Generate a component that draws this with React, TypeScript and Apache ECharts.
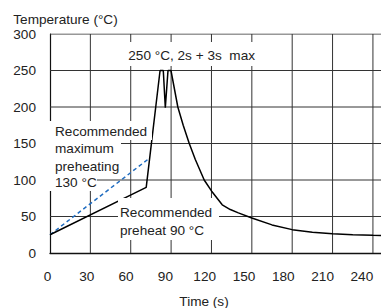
import React, { useEffect, useRef } from "react";
import * as echarts from "echarts";

// Reflow soldering temperature profile
const profileTime = [0, 71.5, 81.8, 84.2, 85.7, 87.7, 89.9, 95, 99, 103.5, 108, 114.6, 120, 128, 134, 140, 150, 165, 180, 195, 210, 225, 240, 246];
const profileTemp = [25, 90, 250, 250, 199, 250, 250, 200, 175, 150, 128, 100, 85, 66, 59.5, 55, 48, 38.5, 32, 28.5, 26.4, 25, 24.2, 24.1];
const maxPreheatTime = [0, 74];
const maxPreheatTemp = [25, 130];
const xTicks = [0, 30, 60, 90, 120, 150, 180, 210, 240];
const yTicks = [0, 50, 100, 150, 200, 250, 300];
const X_MAX = 246;

const FONT = "'Liberation Sans', Arial, Helvetica, sans-serif";
const FS = 13.6;
const TXT = "#222";
const GRID_COLOR = "#333";

export default function App() {
  const ref = useRef<HTMLDivElement>(null);
  useEffect(() => {
    if (!ref.current) return;
    const chart = echarts.init(ref.current, null, { renderer: "svg" });
    const profile = profileTime.map((t, i) => [t, profileTemp[i]]);
    const preheat = maxPreheatTime.map((t, i) => [t, maxPreheatTemp[i]]);
    const yMax = yTicks[yTicks.length - 1];
    const vLines = xTicks.slice(1).map((v) => [
      [v, 0],
      [v, yMax],
    ]);
    const hLines = yTicks.slice(1).map((v) => [
      [0, v],
      [X_MAX, v],
    ]);
    const gridSeries = [...vLines, ...hLines].map((d) => ({
      type: "line",
      xAxisIndex: 0,
      yAxisIndex: 0,
      data: d,
      showSymbol: false,
      symbol: "none",
      silent: true,
      z: 3,
      lineStyle: { color: GRID_COLOR, width: 1, type: "solid" },
    }));
    const font = `${FS}px ${FONT}`;
    const rect = (x: number, y: number, w: number, h: number) => ({
      type: "rect",
      shape: { x, y, width: w, height: h },
      style: { fill: "#fff" },
      z: 50,
      silent: true,
    });
    const text = (t: string, x: number, y: number, align = "left") => ({
      type: "text",
      x,
      y,
      z: 60,
      silent: true,
      style: { text: t, fill: TXT, font, textAlign: align, textVerticalAlign: "middle" },
    });
    chart.setOption({
      animation: false,
      backgroundColor: "#fff",
      textStyle: { fontFamily: FONT },
      grid: [
        { left: 50, right: -1, top: 34, bottom: 55 },
        { left: 47.5, right: 19.1, top: 34, bottom: 55, show: false },
      ],
      xAxis: [
        {
          type: "value",
          gridIndex: 0,
          min: 0,
          max: X_MAX,
          interval: 30,
          axisLine: { show: true, lineStyle: { color: "#111", width: 1.3 } },
          axisTick: { show: false },
          axisLabel: { show: false },
          splitLine: { show: false },
        },
        {
          type: "value",
          gridIndex: 1,
          min: xTicks[0],
          max: xTicks[xTicks.length - 1],
          interval: 30,
          axisLine: { show: false },
          axisTick: { show: false },
          splitLine: { show: false },
          axisLabel: { show: true, margin: 16, color: TXT, fontSize: FS, fontFamily: FONT },
        },
      ],
      yAxis: [
        {
          type: "value",
          gridIndex: 0,
          min: yTicks[0],
          max: yMax,
          interval: 50,
          axisLine: { show: true, lineStyle: { color: "#111", width: 1.2 } },
          axisTick: { show: false },
          axisLabel: { show: true, margin: 14, color: TXT, fontSize: FS, fontFamily: FONT },
          splitLine: { show: false },
        },
        { type: "value", gridIndex: 1, min: 0, max: 300, show: false },
      ],
      series: [
        ...gridSeries,
        {
          type: "line",
          xAxisIndex: 0,
          yAxisIndex: 0,
          data: preheat,
          showSymbol: false,
          symbol: "none",
          lineStyle: { color: "#1f6cc0", width: 1.5, type: [4, 3] },
          z: 3,
        },
        {
          type: "line",
          xAxisIndex: 0,
          yAxisIndex: 0,
          data: profile,
          showSymbol: false,
          symbol: "none",
          lineStyle: { color: "#000", width: 1.5 },
          z: 4,
        },
      ],
      graphic: [
        text("Temperature (°C)", 13.3, 19.5),
        text("Time (s)", 204, 301.3, "center"),
        rect(126, 42, 131, 24),
        text("250 °C, 2s + 3s  max", 128.3, 55.7),
        rect(49, 121, 103, 19),
        rect(49, 140, 72, 17),
        rect(49, 157, 72, 17),
        rect(49, 174, 48, 17),
        text("Recommended", 55, 131.5),
        text("maximum", 55, 148.5),
        text("preheating", 55, 166),
        text("130 °C", 55, 182.7),
        rect(118, 198, 96, 42),
        rect(214, 206, 5, 34),
        text("Recommended", 120, 212.7),
        text("preheat 90 °C", 120, 230),
      ],
    });
    return () => chart.dispose();
  }, []);
  return (
    <div
      ref={ref}
      style={{ position: "absolute", left: 0, top: 0, width: 381, height: 308 }}
    />
  );
}
